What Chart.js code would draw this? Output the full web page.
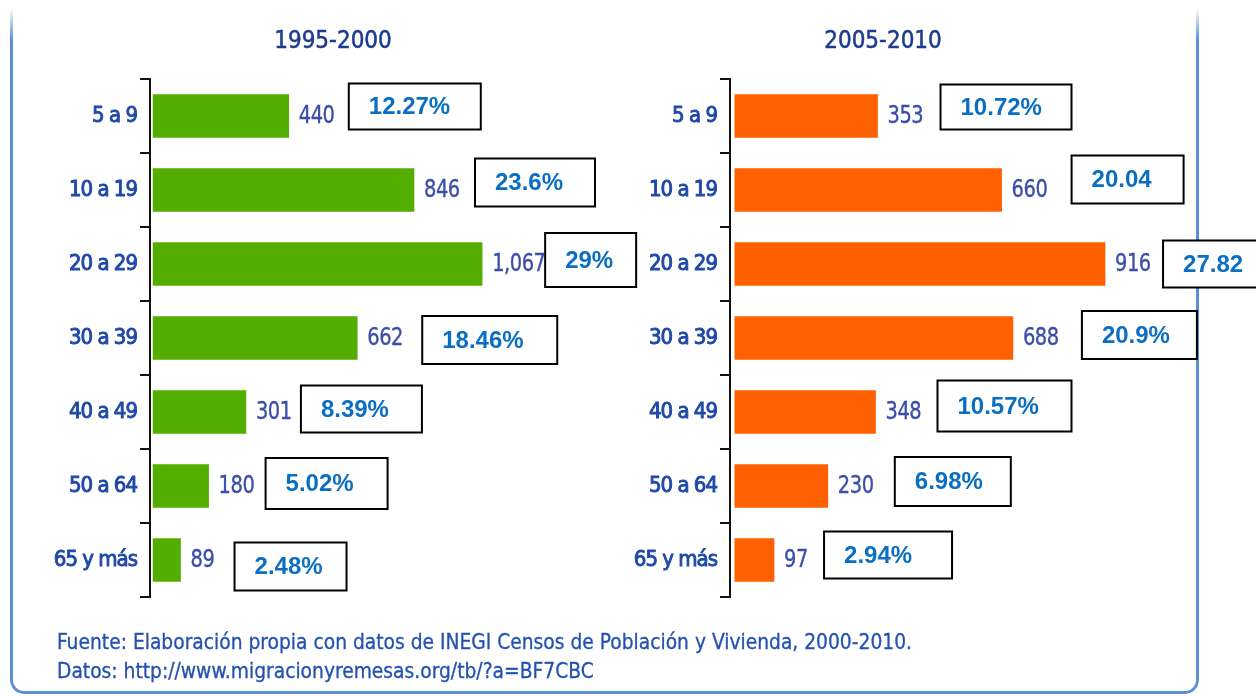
<!DOCTYPE html>
<html><head><meta charset="utf-8">
<script src="https://cdn.jsdelivr.net/npm/chart.js@4.4.1/dist/chart.umd.min.js"></script>
<style>
html,body{margin:0;padding:0;background:#fff;}
#wrap{position:relative;width:1256px;height:696px;overflow:hidden;background:#fff;}
canvas{position:absolute;left:0;top:0;}
#frame{position:absolute;left:10px;top:-20px;width:1183px;height:711px;border:3px solid #5b90d3;border-top:none;border-radius:0 0 14px 14px;
 -webkit-mask-image:linear-gradient(to bottom,transparent 0,transparent 28px,#000 60px);mask-image:linear-gradient(to bottom,transparent 0,transparent 28px,#000 60px);}
#foot{position:absolute;left:57px;top:628px;font-family:'DejaVu Sans Condensed','DejaVu Sans',sans-serif;font-size:21px;line-height:29px;color:#2452b0;white-space:nowrap;transform-origin:0 0;-webkit-text-stroke:0.3px #2452b0;}
#foot span{display:block;}
</style></head>
<body>
<div id="wrap">
 <div id="frame"></div>
 <canvas id="c1" width="1256" height="696"></canvas>
 <canvas id="c2" width="1256" height="696"></canvas>
 <div id="foot"><span id="f1">Fuente: Elaboración propia con datos de INEGI Censos de Población y Vivienda, 2000-2010.</span><span id="f2">Datos: http://www.migracionyremesas.org/tb/?a=BF7CBC</span></div>
</div>
<script>
// ---- data ----
const categories = ['5 a 9','10 a 19','20 a 29','30 a 39','40 a 49','50 a 64','65 y más'];
const values1995 = [440, 846, 1067, 662, 301, 180, 89];
const values2005 = [353, 660, 916, 688, 348, 230, 97];
const pct1995 = ['12.27%','23.6%','29%','18.46%','8.39%','5.02%','2.48%'];
const pct2005 = ['10.72%','20.04','27.82','20.9%','10.57%','6.98%','2.94%'];
const title1995 = '1995-2000';
const title2005 = '2005-2010';

// ---- layout (annotation boxes, relative to bar ends) ----
const boxLayout1995 = {dx:[60,61,63,65,55,57,54], w:[132,120,91,135,121,122,112], h:[46,48,54,48,47,51,48], dy:[-9.5,-7.5,-4,2,-3,-2.5,6.5]};
const boxLayout2005 = {dx:[63,70,58,69,62,67,50], w:[131,112,100,115,134,116,128], h:[45,48,47,48,51,49,47], dy:[-9,-10.5,0,-3,-6,-4.5,-5]};

const FONT_C = '"DejaVu Sans Condensed","DejaVu Sans",sans-serif';
const TITLE_COLOR = '#1c3b90';
const VAL_COLOR = '#3b4ea8';
const CAT_COLOR = '#1f48a8';
const PCT_COLOR = '#0a6fc2';

const tightText = {
  id: 'tightText',
  beforeDraw(chart){ chart.ctx.letterSpacing = '-1px'; },
  afterDraw(chart){ chart.ctx.letterSpacing = '0px'; }
};

function annot(id, title, titleX, pct, layout){
  return {
    id: id,
    afterDatasetsDraw(chart){
      const ctx = chart.ctx;
      const meta = chart.getDatasetMeta(0);
      const vals = chart.data.datasets[0].data;
      ctx.save();
      ctx.letterSpacing = '0px';
      ctx.font = '24px ' + FONT_C;
      ctx.fillStyle = TITLE_COLOR;
      ctx.strokeStyle = TITLE_COLOR;
      ctx.lineWidth = 0.5;
      ctx.textAlign = 'center';
      ctx.textBaseline = 'middle';
      ctx.fillText(title, titleX, 42);
      ctx.strokeText(title, titleX, 42);
      meta.data.forEach((bar, i) => {
        const endX = bar.x, cy = bar.y;
        const bw = layout.w[i], bh = layout.h[i];
        const bx = endX + layout.dx[i], by = cy + layout.dy[i] - bh / 2;
        ctx.letterSpacing = '0px';
        ctx.fillStyle = '#fff';
        ctx.fillRect(bx, by, bw, bh);
        ctx.lineWidth = 2;
        ctx.strokeStyle = '#000';
        ctx.strokeRect(bx, by, bw, bh);
        ctx.textAlign = 'left';
        ctx.textBaseline = 'middle';
        ctx.font = 'bold 24px "Liberation Sans", Arial, sans-serif';
        ctx.fillStyle = PCT_COLOR;
        ctx.fillText(pct[i], bx + 20, by + bh / 2 + 1);
        // value label (horizontally condensed)
        ctx.save();
        ctx.translate(endX + 10, cy + 1);
        ctx.scale(0.9, 1);
        ctx.letterSpacing = '-0.5px';
        ctx.font = '24px ' + FONT_C;
        ctx.fillStyle = VAL_COLOR;
        ctx.strokeStyle = VAL_COLOR;
        ctx.lineWidth = 0.35;
        const t = vals[i].toLocaleString('en-US');
        ctx.fillText(t, 0, 0);
        ctx.strokeText(t, 0, 0);
        ctx.restore();
      });
      ctx.restore();
    }
  };
}

function makeChart(canvasId, values, color, xmin, xmax, padL, padR, yW, plugin){
  return new Chart(document.getElementById(canvasId), {
    type: 'bar',
    data: { labels: categories, datasets: [{ data: values, backgroundColor: color, borderWidth: 0, barThickness: 43 }] },
    options: {
      indexAxis: 'y',
      responsive: false,
      animation: false,
      devicePixelRatio: 1,
      layout: { padding: { left: padL, right: padR, top: 79, bottom: 99 } },
      plugins: { legend: { display: false }, tooltip: { enabled: false }, title: { display: false } },
      scales: {
        x: { display: false, min: xmin, max: xmax },
        y: {
          afterFit(s){ s.width = yW; },
          border: { display: true, color: '#111', width: 2 },
          grid: { drawOnChartArea: false, drawTicks: true, tickLength: 10, color: '#111', lineWidth: 2, offset: true },
          ticks: { color: CAT_COLOR, font: { family: FONT_C, size: 22 }, padding: 3, textStrokeColor: CAT_COLOR, textStrokeWidth: 0.9 }
        }
      }
    },
    plugins: [tightText, plugin]
  });
}

makeChart('c1', values1995, '#53ae00', -10, 1300, 0, 702, 150, annot('a1', title1995, 333, pct1995, boxLayout1995));
makeChart('c2', values2005, '#ff6000', -12, 1000, 600, 117, 130, annot('a2', title2005, 883, pct2005, boxLayout2005));

function fitFoot(){
  const f = document.getElementById('foot');
  f.style.transform = 'none';
  const range = document.createRange();
  range.selectNodeContents(document.getElementById('f1'));
  const tw = range.getBoundingClientRect().width;
  if (tw > 0) f.style.transform = 'scaleX(' + (855 / tw) + ')';
}
fitFoot();
if (document.fonts && document.fonts.ready) document.fonts.ready.then(fitFoot);
</script>
</body></html>
